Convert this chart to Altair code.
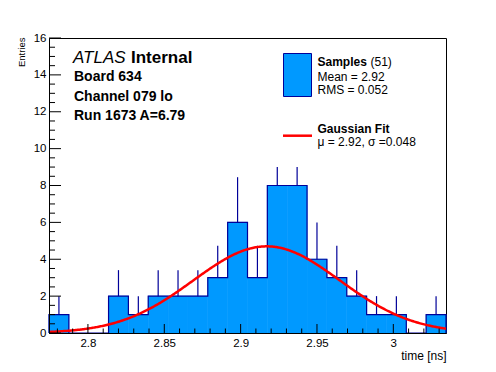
import altair as alt
import pandas as pd

# ---------------- data ----------------
bin_lo = 2.7745
bin_width = 0.013
counts = [1, 0, 0, 2, 1, 2, 2, 2, 3, 6, 3, 8, 8, 4, 3, 2, 1, 1, 0, 1]
errors = [1.0, 0, 0, 1.41, 1.0, 1.41, 1.41, 1.41, 1.73, 2.45, 1.73, 2.83, 2.83,
          2.0, 1.73, 1.41, 1.0, 1.0, 0, 1.0]
fit_mu = 2.917
fit_sigma = 0.048
fit_amp = 4.7
x_major = [2.8, 2.85, 2.9, 2.95, 3.0]
x_minor = [2.78, 2.79, 2.81, 2.82, 2.83, 2.84, 2.86, 2.87, 2.88, 2.89, 2.91, 2.92,
           2.93, 2.94, 2.96, 2.97, 2.98, 2.99, 3.01, 3.02, 3.03]
y_major = [0, 2, 4, 6, 8, 10, 12, 14, 16]
y_minor = [v / 2 for v in range(33) if v % 4 != 0]

nb = len(counts)
x_min = bin_lo
x_max = bin_lo + nb * bin_width
edges = [bin_lo + i * bin_width for i in range(nb + 1)]

# bins (fill)
bins_df = pd.DataFrame({"a": edges[:-1], "b": edges[1:], "n": counts, "z": [0] * nb})
bins_df = bins_df[bins_df["n"] > 0]

# outline points (step-after)
pts = [(edges[0], 0)] + [(edges[i], counts[i]) for i in range(nb)] + \
      [(edges[nb], counts[-1]), (edges[nb], 0)]
hist_df = pd.DataFrame({"x": [p[0] for p in pts], "n": [p[1] for p in pts],
                        "o": list(range(len(pts)))})

err_df = pd.DataFrame({
    "c": [edges[i] + bin_width / 2 for i in range(nb)],
    "lo": counts,
    "hi": [counts[i] + errors[i] for i in range(nb)],
    "e": errors,
})
err_df = err_df[err_df["e"] > 0]

FONT = "Liberation Sans"
FILL = "#0099ff"
LINE = "#000099"
W, H = 397, 295

x_scale = alt.Scale(domain=[x_min, x_max], nice=False, zero=False)
y_scale = alt.Scale(domain=[0, 16], nice=False, zero=True)
x_axis = alt.Axis(values=x_major, labelExpr="datum.value + ''", ticks=False, tickSize=0,
                  grid=False, labelFont=FONT, labelFontSize=11.5, labelColor="black",
                  labelPadding=4, domainColor="black", title="time [ns]",
                  titleFont=FONT, titleFontSize=12, titleFontWeight="normal",
                  titleColor="black", titleAnchor="end", titleAlign="right",
                  titleX=W, titleY=22, titleBaseline="middle", zindex=1)
y_axis = alt.Axis(values=y_major, ticks=False, tickSize=0, grid=False,
                  labelFont=FONT, labelFontSize=11.5, labelColor="black",
                  labelPadding=3, domainColor="black", title="Entries",
                  titleFont=FONT, titleFontSize=9.5, titleFontWeight="normal",
                  titleColor="black", titleAngle=270, titleAlign="right",
                  titleBaseline="middle", titleX=-28, titleY=-1, zindex=1)


def X(f):
    return alt.X(f, type="quantitative", scale=x_scale, axis=x_axis)


def Y(f):
    return alt.Y(f, type="quantitative", scale=y_scale, axis=y_axis, stack=None)


fill = alt.Chart(bins_df).mark_rect(fill=FILL, stroke=FILL, strokeWidth=0.6).encode(
    x=X("a"), x2=alt.X2("b"), y=Y("n"), y2=alt.Y2("z"))
outline = alt.Chart(hist_df).mark_line(interpolate="step-after", color=LINE,
                                       strokeWidth=1.2).encode(
    x=X("x"), y=Y("n"), order=alt.Order("o:Q"))
errs = alt.Chart(err_df).mark_rule(color=LINE, strokeWidth=1.2).encode(
    x=X("c"), y=Y("lo"), y2=alt.Y2("hi"))

curve = alt.Chart(alt.sequence(0, 401, as_="i")).transform_calculate(
    t=f"{x_min} + datum.i * {(x_max - x_min) / 400}",
    g=f"{fit_amp} * exp(-0.5 * pow((datum.t - {fit_mu}) / {fit_sigma}, 2))",
).mark_line(color="#ff0000", strokeWidth=2.5, clip=True).encode(x=X("t:Q"), y=Y("g:Q"))

one = pd.DataFrame({"k": [0]})
legend_bg = alt.Chart(one).mark_rect(color="white").encode(
    x=alt.value(222), x2=alt.value(396), y=alt.value(1), y2=alt.value(129))
swatch_blue = alt.Chart(one).mark_rect(fill=FILL, stroke=LINE, strokeWidth=1).encode(
    x=alt.value(234.5), x2=alt.value(262.5), y=alt.value(15.5), y2=alt.value(58.5))
swatch_red = alt.Chart(one).mark_rule(color="#ff0000", strokeWidth=2.5).encode(
    x=alt.value(234), x2=alt.value(263), y=alt.value(97.7))


def label(text, x, y, size, weight="normal", style="normal"):
    return alt.Chart(pd.DataFrame({"t": [text]})).mark_text(
        align="left", baseline="middle", font=FONT, fontSize=size,
        fontWeight=weight, fontStyle=style, color="black").encode(
        text="t:N", x=alt.value(x), y=alt.value(y))


texts = [
    label("ATLAS", 24, 20, 17, style="italic"),
    label("Internal", 82, 20, 17, weight="bold"),
    label("Board 634", 25, 38.5, 14, weight="bold"),
    label("Channel 079 lo", 25, 58.5, 14, weight="bold"),
    label("Run 1673 A=6.79", 25, 78, 14, weight="bold"),
    label("Samples", 268.5, 23.7, 12, weight="bold"),
    label("(51)", 321.5, 23.7, 12),
    label("Mean = 2.92", 268.5, 38.7, 12),
    label("RMS = 0.052", 268.5, 51.7, 12),
    label("Gaussian Fit", 268.5, 91, 12, weight="bold"),
    label("\u03bc = 2.92, \u03c3 =0.048", 268.5, 104.3, 12),
]

xt_major = alt.Chart(pd.DataFrame({"v": x_major})).mark_rule(color="black").encode(
    x=X("v"), y=alt.value(H), y2=alt.value(H - 9))
xt_minor = alt.Chart(pd.DataFrame({"v": x_minor})).mark_rule(color="black").encode(
    x=X("v"), y=alt.value(H), y2=alt.value(H - 4.5))
yt_major = alt.Chart(pd.DataFrame({"v": y_major})).mark_rule(color="black").encode(
    y=Y("v"), x=alt.value(0), x2=alt.value(12))
yt_minor = alt.Chart(pd.DataFrame({"v": y_minor})).mark_rule(color="black").encode(
    y=Y("v"), x=alt.value(0), x2=alt.value(6))

chart = alt.layer(
    fill, outline, errs, curve, legend_bg, swatch_blue, swatch_red, *texts,
    xt_major, xt_minor, yt_major, yt_minor,
).properties(
    width=W, height=H,
    padding={"left": 41, "top": 30, "right": 34, "bottom": 30},
    autosize=alt.AutoSizeParams(type="none"),
    background="white",
).configure_view(stroke="black", strokeWidth=1)

chart.save("out.html", embed_options={"renderer": "svg", "actions": False})
